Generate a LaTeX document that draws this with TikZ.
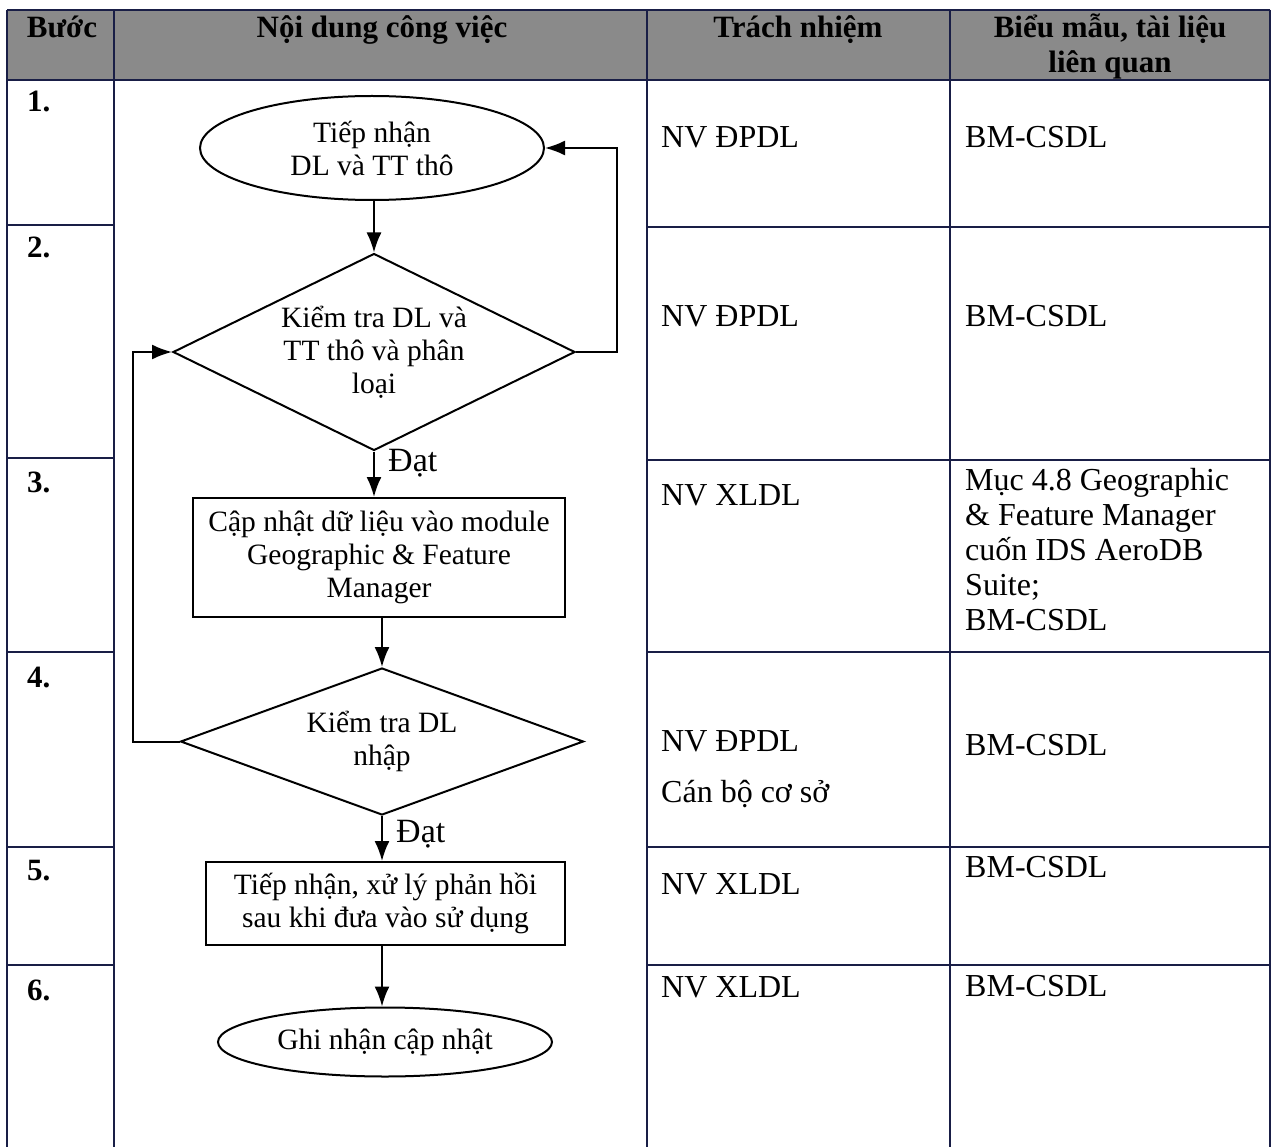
\documentclass[tikz,border=0pt]{standalone}
\usepackage{fontspec}
\setmainfont{Liberation Serif}
\usetikzlibrary{shapes.geometric,arrows.meta}
\definecolor{tline}{RGB}{25,30,70}
\definecolor{hdr}{RGB}{138,138,138}
\begin{document}
\begin{tikzpicture}[x=1pt,y=-1pt,
  grid/.style={draw=tline,line width=1.6pt},
  hdrtxt/.style={font=\fontsize{31}{35}\selectfont\bfseries,anchor=base,inner sep=0pt},
  numtxt/.style={font=\fontsize{31}{35}\selectfont\bfseries,anchor=base west,inner sep=0pt},
  celltxt/.style={font=\fontsize{32}{35}\selectfont,anchor=base west,inner sep=0pt,align=left},
  fc/.style={draw=black,line width=2pt,font=\fontsize{29.5}{33}\selectfont,align=center,inner sep=0pt},
  termbox/.style={fc,ellipse},
  decbox/.style={fc,diamond},
  procbox/.style={fc,rectangle},
  arr/.style={draw=black,line width=2pt,-{Latex[length=20pt,width=15pt]}},
  lbl/.style={font=\fontsize{34}{36}\selectfont,anchor=west,inner sep=0pt}
]
\useasboundingbox (0,0) rectangle (1274,1147);
% header
\fill[hdr] (7,10) rectangle (1270,80);
% table grid
\draw[grid] (7,10) -- (1270,10);
\draw[grid] (7,80) -- (1270,80);
\draw[grid] (7,225) -- (114,225);
\draw[grid] (647,227) -- (1270,227);
\draw[grid] (7,458) -- (114,458);
\draw[grid] (647,460) -- (1270,460);
\draw[grid] (7,652) -- (114,652);
\draw[grid] (647,652) -- (1270,652);
\draw[grid] (7,847) -- (114,847);
\draw[grid] (647,847) -- (1270,847);
\draw[grid] (7,965) -- (114,965);
\draw[grid] (647,965) -- (1270,965);
\foreach \xx in {7,114,647,950,1270} \draw[grid] (\xx,10) -- (\xx,1147);
% header text
\node[hdrtxt] (h1) at (62,38) {Bước};
\node[hdrtxt] (h2) at (382,38) {Nội dung công việc};
\node[hdrtxt] (h3) at (798,38) {Trách nhiệm};
\node[hdrtxt] (h4) at (1110,38) {Biểu mẫu, tài liệu};
\node[hdrtxt] (h4b) at (1110,73) {liên quan};
% step numbers
\node[numtxt] (n1) at (27,112) {1.};
\node[numtxt] (n2) at (27,258) {2.};
\node[numtxt] (n3) at (27,492) {3.};
\node[numtxt] (n4) at (27,687) {4.};
\node[numtxt] (n5) at (27,880) {5.};
\node[numtxt] (n6) at (27,1000) {6.};
% responsibility
\node[celltxt] (r1) at (661,148) {NV ĐPDL};
\node[celltxt] (r2) at (661,327) {NV ĐPDL};
\node[celltxt] (r3) at (661,505) {NV XLDL};
\node[celltxt] (r4) at (661,751) {NV ĐPDL};
\node[celltxt] (r4b) at (661,802) {Cán bộ cơ sở};
\node[celltxt] (r5) at (661,894) {NV XLDL};
\node[celltxt] (r6) at (661,997) {NV XLDL};
% forms
\node[celltxt] (f1) at (965,148) {BM-CSDL};
\node[celltxt] (f2) at (965,327) {BM-CSDL};
\node[celltxt] (f3) at (965,630) {Mục 4.8 Geographic\\\& Feature Manager\\cuốn IDS AeroDB\\Suite;\\BM-CSDL};
\node[celltxt] (f4) at (965,755) {BM-CSDL};
\node[celltxt] (f5) at (965,877) {BM-CSDL};
\node[celltxt] (f6) at (965,996) {BM-CSDL};
% flowchart
\node[termbox,minimum width=344pt,minimum height=104pt] (e1) at (372,148) {Tiếp nhận\\DL và TT thô};
\node[decbox,shape aspect=2.04,minimum width=402pt,minimum height=197pt] (d1) at (374,352) {Kiểm tra DL và\\TT thô và phân\\loại};
\node[procbox,minimum width=372pt,minimum height=119pt] (p1) at (379,557.5) {Cập nhật dữ liệu vào module\\Geographic \& Feature\\Manager};
\node[decbox,shape aspect=2.74,minimum width=403pt,minimum height=147pt] (d2) at (382,741.5) {Kiểm tra DL\\nhập};
\node[procbox,minimum width=359pt,minimum height=83pt] (p2) at (385.5,903.5) {Tiếp nhận, xử lý phản hồi\\sau khi đưa vào sử dụng};
\node[termbox,minimum width=334pt,minimum height=69pt] (e2) at (385,1042) {Ghi nhận cập nhật};
\coordinate (rr) at (617,0);
\coordinate (ll) at (133,0);
\draw[arr] (d1.north |- e1.south) -- (d1.north);
\draw[arr] (d1.south) -- (d1.south |- p1.north);
\draw[arr] (d2.north |- p1.south) -- (d2.north);
\draw[arr] (d2.south) -- (d2.south |- p2.north);
\draw[arr] (d2.south |- p2.south) -- (d2.south |- e2.north);
\draw[arr] (d1.east) -| (rr |- e1.east) -- (e1.east);
\draw[arr] (d2.west) -| (ll |- d1.west) -- (d1.west);
\node[lbl] (dat1) at (388,463) {Đạt};
\node[lbl] (dat2) at (396,834) {Đạt};
\end{tikzpicture}
\end{document}
